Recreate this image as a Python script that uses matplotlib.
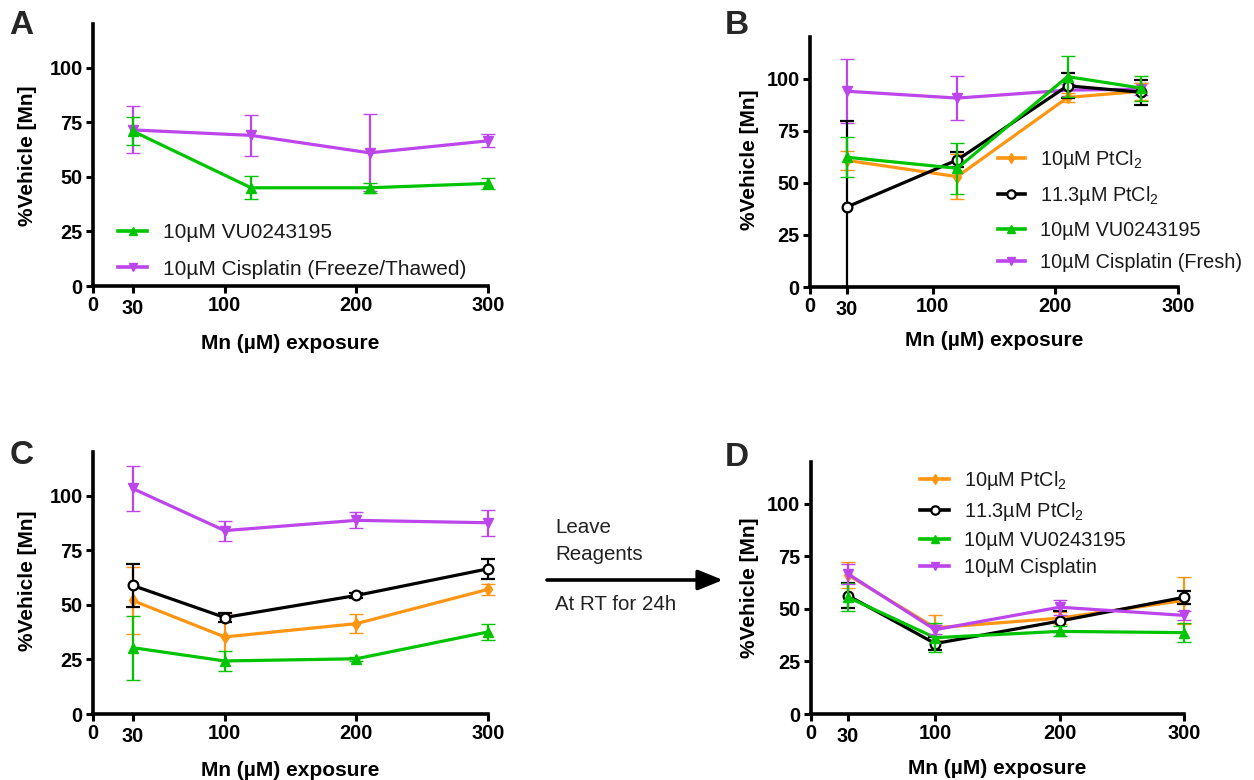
import matplotlib
matplotlib.use("Agg")
import matplotlib.pyplot as plt
import numpy as np
from matplotlib.lines import Line2D

plt.rcParams['font.family'] = ['Liberation Sans', 'DejaVu Sans']
plt.rcParams['mathtext.fontset'] = 'custom'
plt.rcParams['mathtext.rm'] = 'Liberation Sans'
plt.rcParams['mathtext.it'] = 'Liberation Sans'

# ---------------- data ----------------
xticks = [0, 30, 100, 200, 300]
yticks = [0, 25, 50, 75, 100]

# Panel A
a_x = [30, 120, 210, 300]
a_vu = [71, 45, 45, 47]
a_vu_err = [6.5, 5.3, 2.3, 2.6]
a_cis = [71.5, 69, 61, 66.5]
a_cis_err = [10.8, 9.5, 17.6, 3]

# Panel B
b_x = [30, 120, 210, 270]
b_pt10 = [60.8, 53, 91, 94]
b_pt10_err = [4.5, 10.7, 2, 4]
b_pt113 = [38.4, 61, 96.6, 93.5]
b_pt113_err = [41.2, 3.6, 6, 6]
b_vu = [62.3, 57, 101, 95.5]
b_vu_err = [9.6, 12.3, 10, 6]
b_cis = [94, 90.7, 94.5, 95]
b_cis_err = [15.4, 10.5, 3, 3]

# Panel C
c_x = [30, 100, 200, 300]
c_pt10 = [52, 35.3, 41.4, 57.1]
c_pt10_err = [15.2, 11, 4.2, 2.5]
c_pt113 = [58.9, 44.2, 54.3, 66.5]
c_pt113_err = [10, 2, 1, 4.7]
c_vu = [30.4, 24.3, 25.3, 37.6]
c_vu_err = [14.6, 4.6, 1, 3.8]
c_cis = [103.3, 84, 88.7, 87.6]
c_cis_err = [10.5, 4.6, 3.6, 6]

# Panel D
d_x = [30, 100, 200, 300]
d_pt10 = [66.1, 41, 45.6, 54]
d_pt10_err = [6, 6, 3, 11]
d_pt113 = [56.3, 33.5, 44.2, 55.5]
d_pt113_err = [5.8, 3, 5, 3]
d_vu = [55.5, 36.3, 39.3, 38.7]
d_vu_err = [6.6, 6.9, 2.4, 4.6]
d_cis = [66.6, 40.1, 50.8, 46.9]
d_cis_err = [4.8, 2, 3.6, 2]

lab_pt10 = "10µM PtCl$_2$"
lab_pt113 = "11.3µM PtCl$_2$"
lab_vu = "10µM VU0243195"
lab_cis_ft = "10µM Cisplatin (Freeze/Thawed)"
lab_cis_fresh = "10µM Cisplatin (Fresh)"
lab_cis = "10µM Cisplatin"

# ---------------- styles ----------------
GREEN = '#00C400'
PURPLE = '#BC45EC'
ORANGE = '#FF9512'
BLACK = '#000000'

STY = {
    'vu': dict(color=GREEN, marker='^', ms=7, mfc=GREEN, mec=GREEN, mew=1),
    'cis': dict(color=PURPLE, marker='v', ms=7, mfc=PURPLE, mec=PURPLE, mew=1),
    'pt10': dict(color=ORANGE, marker='d', ms=6, mfc=ORANGE, mec=ORANGE, mew=1),
    'pt113': dict(color=BLACK, marker='o', ms=7, mfc='white', mec=BLACK, mew=1.6),
}

fig = plt.figure(figsize=(12.54, 7.80), dpi=100)

def series(ax, x, y, err, key, label, z):
    y = np.asarray(y, float)
    err = np.asarray(err, float)
    lower = np.minimum(err, y)
    st = STY[key]
    ax.errorbar(x, y, yerr=[lower, err], color=st['color'], lw=2.3,
                elinewidth=1.6, capsize=5, capthick=1.8,
                marker=st['marker'], ms=st['ms'], mfc=st['mfc'], mec=st['mec'],
                mew=st['mew'], clip_on=False, zorder=z, label=label)

def style_axes(ax, ylab_xy, xlab_xy):
    ax.set_xlim(0, 300)
    ax.set_ylim(0, 120)
    for s in ['top', 'right']:
        ax.spines[s].set_visible(False)
    for s in ['left', 'bottom']:
        ax.spines[s].set_linewidth(2.6)
        ax.spines[s].set_capstyle('projecting')
    ax.set_xticks(xticks)
    ax.set_xticklabels([str(t) for t in xticks])
    ax.set_yticks(yticks)
    ax.set_yticklabels([str(t) for t in yticks])
    ax.tick_params(axis='both', direction='out', length=5, width=2.2,
                   pad=2.5, labelsize=14.3)
    for lab in ax.get_xticklabels() + ax.get_yticklabels():
        lab.set_fontweight('bold')
    xl = ax.get_xticklabels()
    xl[1].set_y(-0.011)
    ax.set_ylabel("%Vehicle [Mn]", fontsize=15, fontweight='bold')
    ax.set_xlabel("Mn (µM) exposure", fontsize=15, fontweight='bold')
    ax.yaxis.label.set_va('center')
    ax.xaxis.label.set_va('center')
    ax.yaxis.set_label_coords(*ylab_xy)
    ax.xaxis.set_label_coords(*xlab_xy)

def legend(ax, handles_keys, labels, center, fs, spacing, hl):
    hs = []
    for k in handles_keys:
        st = STY[k]
        hs.append(Line2D([], [], color=st['color'], lw=2.6, marker=st['marker'],
                         ms=st['ms'] - 1, mfc=st['mfc'], mec=st['mec'], mew=st['mew']))
    leg = ax.legend(hs, labels, loc='center left',
                    bbox_to_anchor=(center[0] / 1254, 1 - center[1] / 780),
                    bbox_transform=fig.transFigure, frameon=False, fontsize=fs,
                    handlelength=hl, handletextpad=0.75, labelspacing=spacing,
                    borderpad=0, borderaxespad=0)
    for t in leg.get_texts():
        t.set_color('#1a1a1a')
    return leg

# ---------------- Panel A ----------------
axA = fig.add_axes([0.0742, 0.6333, 0.315, 0.3359])
series(axA, a_x, a_cis, a_cis_err, 'cis', lab_cis_ft, 3)
series(axA, a_x, a_vu, a_vu_err, 'vu', lab_vu, 4)
style_axes(axA, (-0.165, 0.496), (0.5, -0.218))
legend(axA, ['vu', 'cis'], [lab_vu, lab_cis_ft], (118, 251), 15, 0.84, 1.4)

# ---------------- Panel B ----------------
axB = fig.add_axes([0.6459, 0.632, 0.2935, 0.3205])
series(axB, b_x, b_cis, b_cis_err, 'cis', lab_cis_fresh, 2)
series(axB, b_x, b_pt10, b_pt10_err, 'pt10', lab_pt10, 3)
series(axB, b_x, b_pt113, b_pt113_err, 'pt113', lab_pt113, 4)
series(axB, b_x, b_vu, b_vu_err, 'vu', lab_vu, 5)
style_axes(axB, (-0.163, 0.508), (0.5, -0.212))
legend(axB, ['pt10', 'pt113', 'vu', 'cis'],
       [lab_pt10, lab_pt113, lab_vu, lab_cis_fresh], (998, 210), 14.3, 0.68, 1.35)

# ---------------- Panel C ----------------
axC = fig.add_axes([0.0742, 0.0846, 0.315, 0.3359])
series(axC, c_x, c_pt10, c_pt10_err, 'pt10', lab_pt10, 3)
series(axC, c_x, c_pt113, c_pt113_err, 'pt113', lab_pt113, 4)
series(axC, c_x, c_vu, c_vu_err, 'vu', lab_vu, 5)
series(axC, c_x, c_cis, c_cis_err, 'cis', lab_cis, 6)
style_axes(axC, (-0.165, 0.508), (0.5, -0.214))

# ---------------- Panel D ----------------
axD = fig.add_axes([0.6465, 0.0846, 0.2977, 0.3235])
series(axD, d_x, d_pt10, d_pt10_err, 'pt10', lab_pt10, 3)
series(axD, d_x, d_pt113, d_pt113_err, 'pt113', lab_pt113, 4)
series(axD, d_x, d_vu, d_vu_err, 'vu', lab_vu, 5)
series(axD, d_x, d_cis, d_cis_err, 'cis', lab_cis, 6)
style_axes(axD, (-0.163, 0.50), (0.5, -0.214))
legend(axD, ['pt10', 'pt113', 'vu', 'cis'],
       [lab_pt10, lab_pt113, lab_vu, lab_cis], (920, 523), 14.4, 0.4, 1.45)

# ---------------- panel letters ----------------
for letter, (px, py) in zip("ABCD", [(21, 25), (737, 25), (22, 455), (737, 457)]):
    fig.text(px / 1254, 1 - py / 780, letter, fontsize=24, fontweight='bold',
             color='#262626', ha='center', va='center')

# ---------------- arrow and note ----------------
fig.add_artist(matplotlib.patches.FancyArrowPatch(
    (547 / 1254, 1 - 580 / 780), (723 / 1254, 1 - 580 / 780),
    transform=fig.transFigure, arrowstyle='-|>,head_length=0.42,head_width=0.17',
    mutation_scale=36, lw=2.6, color='black', shrinkA=0, shrinkB=0))
fig.text(555 / 1254, 1 - 533 / 780, "Leave", fontsize=14.8, color='#222222',
         ha='left', va='baseline')
fig.text(555 / 1254, 1 - 560 / 780, "Reagents", fontsize=14.8, color='#222222',
         ha='left', va='baseline')
fig.text(555 / 1254, 1 - 610 / 780, "At RT for 24h", fontsize=14.8, color='#222222',
         ha='left', va='baseline')

fig.savefig("out.png", dpi=100)
